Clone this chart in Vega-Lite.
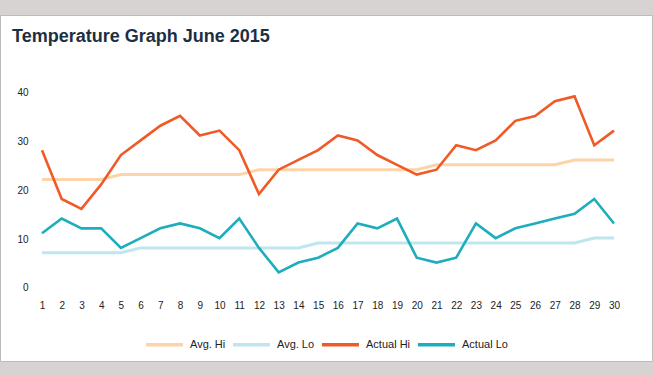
{
  "$schema": "https://vega.github.io/schema/vega-lite/v6.json",
  "width": 652,
  "height": 346,
  "autosize": {"type": "none"},
  "padding": {"top": 15, "left": 0, "right": 2, "bottom": 14},
  "background": "#d6d3d2",
  "config": {
    "view": {"fill": "white", "stroke": "#bcbcbc", "strokeWidth": 1},
    "font": "Liberation Sans"
  },
  "title": {
    "text": "Temperature Graph June 2015",
    "anchor": "start",
    "frame": "group",
    "fontSize": 18,
    "fontWeight": "bold",
    "color": "#1d2f42",
    "font": "Liberation Sans",
    "baseline": "alphabetic",
    "offset": -45,
    "dx": 12
  },
  "data": {
    "values": [
      {"day": 1, "series": "Avg. Hi", "temp": 22}, {"day": 2, "series": "Avg. Hi", "temp": 22}, {"day": 3, "series": "Avg. Hi", "temp": 22}, {"day": 4, "series": "Avg. Hi", "temp": 22}, {"day": 5, "series": "Avg. Hi", "temp": 23}, {"day": 6, "series": "Avg. Hi", "temp": 23}, {"day": 7, "series": "Avg. Hi", "temp": 23}, {"day": 8, "series": "Avg. Hi", "temp": 23}, {"day": 9, "series": "Avg. Hi", "temp": 23}, {"day": 10, "series": "Avg. Hi", "temp": 23},
      {"day": 11, "series": "Avg. Hi", "temp": 23}, {"day": 12, "series": "Avg. Hi", "temp": 24}, {"day": 13, "series": "Avg. Hi", "temp": 24}, {"day": 14, "series": "Avg. Hi", "temp": 24}, {"day": 15, "series": "Avg. Hi", "temp": 24}, {"day": 16, "series": "Avg. Hi", "temp": 24}, {"day": 17, "series": "Avg. Hi", "temp": 24}, {"day": 18, "series": "Avg. Hi", "temp": 24}, {"day": 19, "series": "Avg. Hi", "temp": 24}, {"day": 20, "series": "Avg. Hi", "temp": 24},
      {"day": 21, "series": "Avg. Hi", "temp": 25}, {"day": 22, "series": "Avg. Hi", "temp": 25}, {"day": 23, "series": "Avg. Hi", "temp": 25}, {"day": 24, "series": "Avg. Hi", "temp": 25}, {"day": 25, "series": "Avg. Hi", "temp": 25}, {"day": 26, "series": "Avg. Hi", "temp": 25}, {"day": 27, "series": "Avg. Hi", "temp": 25}, {"day": 28, "series": "Avg. Hi", "temp": 26}, {"day": 29, "series": "Avg. Hi", "temp": 26}, {"day": 30, "series": "Avg. Hi", "temp": 26},
      {"day": 1, "series": "Avg. Lo", "temp": 7}, {"day": 2, "series": "Avg. Lo", "temp": 7}, {"day": 3, "series": "Avg. Lo", "temp": 7}, {"day": 4, "series": "Avg. Lo", "temp": 7}, {"day": 5, "series": "Avg. Lo", "temp": 7}, {"day": 6, "series": "Avg. Lo", "temp": 8}, {"day": 7, "series": "Avg. Lo", "temp": 8}, {"day": 8, "series": "Avg. Lo", "temp": 8}, {"day": 9, "series": "Avg. Lo", "temp": 8}, {"day": 10, "series": "Avg. Lo", "temp": 8},
      {"day": 11, "series": "Avg. Lo", "temp": 8}, {"day": 12, "series": "Avg. Lo", "temp": 8}, {"day": 13, "series": "Avg. Lo", "temp": 8}, {"day": 14, "series": "Avg. Lo", "temp": 8}, {"day": 15, "series": "Avg. Lo", "temp": 9}, {"day": 16, "series": "Avg. Lo", "temp": 9}, {"day": 17, "series": "Avg. Lo", "temp": 9}, {"day": 18, "series": "Avg. Lo", "temp": 9}, {"day": 19, "series": "Avg. Lo", "temp": 9}, {"day": 20, "series": "Avg. Lo", "temp": 9},
      {"day": 21, "series": "Avg. Lo", "temp": 9}, {"day": 22, "series": "Avg. Lo", "temp": 9}, {"day": 23, "series": "Avg. Lo", "temp": 9}, {"day": 24, "series": "Avg. Lo", "temp": 9}, {"day": 25, "series": "Avg. Lo", "temp": 9}, {"day": 26, "series": "Avg. Lo", "temp": 9}, {"day": 27, "series": "Avg. Lo", "temp": 9}, {"day": 28, "series": "Avg. Lo", "temp": 9}, {"day": 29, "series": "Avg. Lo", "temp": 10}, {"day": 30, "series": "Avg. Lo", "temp": 10},
      {"day": 1, "series": "Actual Hi", "temp": 28}, {"day": 2, "series": "Actual Hi", "temp": 18}, {"day": 3, "series": "Actual Hi", "temp": 16}, {"day": 4, "series": "Actual Hi", "temp": 21}, {"day": 5, "series": "Actual Hi", "temp": 27}, {"day": 6, "series": "Actual Hi", "temp": 30}, {"day": 7, "series": "Actual Hi", "temp": 33}, {"day": 8, "series": "Actual Hi", "temp": 35}, {"day": 9, "series": "Actual Hi", "temp": 31}, {"day": 10, "series": "Actual Hi", "temp": 32},
      {"day": 11, "series": "Actual Hi", "temp": 28}, {"day": 12, "series": "Actual Hi", "temp": 19}, {"day": 13, "series": "Actual Hi", "temp": 24}, {"day": 14, "series": "Actual Hi", "temp": 26}, {"day": 15, "series": "Actual Hi", "temp": 28}, {"day": 16, "series": "Actual Hi", "temp": 31}, {"day": 17, "series": "Actual Hi", "temp": 30}, {"day": 18, "series": "Actual Hi", "temp": 27}, {"day": 19, "series": "Actual Hi", "temp": 25}, {"day": 20, "series": "Actual Hi", "temp": 23},
      {"day": 21, "series": "Actual Hi", "temp": 24}, {"day": 22, "series": "Actual Hi", "temp": 29}, {"day": 23, "series": "Actual Hi", "temp": 28}, {"day": 24, "series": "Actual Hi", "temp": 30}, {"day": 25, "series": "Actual Hi", "temp": 34}, {"day": 26, "series": "Actual Hi", "temp": 35}, {"day": 27, "series": "Actual Hi", "temp": 38}, {"day": 28, "series": "Actual Hi", "temp": 39}, {"day": 29, "series": "Actual Hi", "temp": 29}, {"day": 30, "series": "Actual Hi", "temp": 32},
      {"day": 1, "series": "Actual Lo", "temp": 11}, {"day": 2, "series": "Actual Lo", "temp": 14}, {"day": 3, "series": "Actual Lo", "temp": 12}, {"day": 4, "series": "Actual Lo", "temp": 12}, {"day": 5, "series": "Actual Lo", "temp": 8}, {"day": 6, "series": "Actual Lo", "temp": 10}, {"day": 7, "series": "Actual Lo", "temp": 12}, {"day": 8, "series": "Actual Lo", "temp": 13}, {"day": 9, "series": "Actual Lo", "temp": 12}, {"day": 10, "series": "Actual Lo", "temp": 10},
      {"day": 11, "series": "Actual Lo", "temp": 14}, {"day": 12, "series": "Actual Lo", "temp": 8}, {"day": 13, "series": "Actual Lo", "temp": 3}, {"day": 14, "series": "Actual Lo", "temp": 5}, {"day": 15, "series": "Actual Lo", "temp": 6}, {"day": 16, "series": "Actual Lo", "temp": 8}, {"day": 17, "series": "Actual Lo", "temp": 13}, {"day": 18, "series": "Actual Lo", "temp": 12}, {"day": 19, "series": "Actual Lo", "temp": 14}, {"day": 20, "series": "Actual Lo", "temp": 6},
      {"day": 21, "series": "Actual Lo", "temp": 5}, {"day": 22, "series": "Actual Lo", "temp": 6}, {"day": 23, "series": "Actual Lo", "temp": 13}, {"day": 24, "series": "Actual Lo", "temp": 10}, {"day": 25, "series": "Actual Lo", "temp": 12}, {"day": 26, "series": "Actual Lo", "temp": 13}, {"day": 27, "series": "Actual Lo", "temp": 14}, {"day": 28, "series": "Actual Lo", "temp": 15}, {"day": 29, "series": "Actual Lo", "temp": 18}, {"day": 30, "series": "Actual Lo", "temp": 13}
    ]
  },
  "encoding": {
    "x": {
      "field": "day",
      "type": "quantitative",
      "scale": {"domain": [-1.1294, 31.927], "nice": false, "zero": false},
      "axis": {
        "values": [1, 2, 3, 4, 5, 6, 7, 8, 9, 10, 11, 12, 13, 14, 15, 16, 17, 18, 19, 20, 21, 22, 23, 24, 25, 26, 27, 28, 29, 30],
        "offset": -61,
        "domain": false,
        "ticks": false,
        "tickSize": 0,
        "labelPadding": 0,
        "grid": false,
        "title": null,
        "labelFontSize": 10,
        "labelColor": "#222222",
        "labelFlush": false,
        "labelOverlap": false,
        "labelFont": "Liberation Sans"
      }
    },
    "y": {
      "field": "temp",
      "type": "quantitative",
      "scale": {"domain": [-15.141, 55.652], "nice": false, "zero": false},
      "axis": {
        "values": [0, 10, 20, 30, 40],
        "offset": -28,
        "domain": false,
        "ticks": false,
        "tickSize": 0,
        "labelPadding": 0,
        "labelOffset": 1,
        "grid": false,
        "title": null,
        "labelFontSize": 10,
        "labelColor": "#222222",
        "labelFont": "Liberation Sans"
      }
    },
    "color": {
      "field": "series",
      "type": "nominal",
      "scale": {
        "domain": ["Avg. Hi", "Avg. Lo", "Actual Hi", "Actual Lo"],
        "range": ["#fdd3a8", "#bde6ef", "#f05a28", "#1eadbc"]
      },
      "legend": {
        "orient": "none",
        "legendX": 144,
        "legendY": 309,
        "direction": "horizontal",
        "title": null,
        "symbolType": "stroke",
        "symbolSize": 1369,
        "symbolStrokeWidth": 3.5,
        "labelFontSize": 11,
        "labelColor": "#222222",
        "labelFont": "Liberation Sans",
        "labelOffset": 5,
        "columnPadding": 0
      }
    }
  },
  "layer": [
    {
      "transform": [{"filter": {"field": "series", "oneOf": ["Avg. Hi", "Avg. Lo"]}}],
      "mark": {"type": "line", "strokeWidth": 3, "clip": false}
    },
    {
      "transform": [{"filter": {"field": "series", "oneOf": ["Actual Hi", "Actual Lo"]}}],
      "mark": {"type": "line", "strokeWidth": 2.6, "clip": false}
    }
  ]
}
